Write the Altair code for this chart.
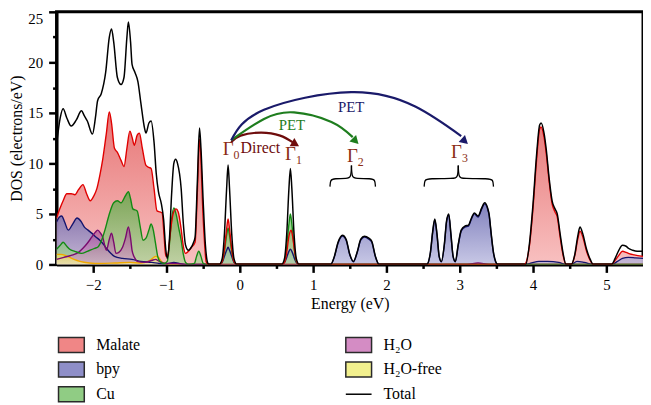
import altair as alt
import pandas as pd

FONT = "Liberation Serif"

# ---------------- axes ----------------
X_DOMAIN = [-2.5, 5.5]
Y_DOMAIN = [0, 25]
X_MAJOR = [-2, -1, 0, 1, 2, 3, 4, 5]
X_MINOR = [-1.5, -0.5, 0.5, 1.5, 2.5, 3.5, 4.5]
Y_MAJOR = [0, 5, 10, 15, 20, 25]
Y_MINOR = [2.5, 7.5, 12.5, 17.5, 22.5]

# ---------------- DOS curves ----------------
TOTAL_E = [-2.50, -2.45, -2.41, -2.36, -2.30, -2.23, -2.16, -2.12, -2.08, -2.01,
           -1.97, -1.94, -1.89, -1.83, -1.78, -1.75, -1.72, -1.67, -1.62, -1.58,
           -1.54, -1.52, -1.49, -1.47, -1.43, -1.39, -1.35, -1.30, -1.28, -1.24,
           -1.21, -1.17, -1.14, -1.11, -1.07, -1.04, -1.01, -0.99, -0.96, -0.93,
           -0.90, -0.876, -0.85, -0.80, -0.77, -0.74, -0.70, -0.67, -0.63, -0.61,
           -0.58, -0.55, -0.53, -0.50, -0.47, -0.44, -0.42,
           -0.28, -0.24, -0.21, -0.18, -0.16, -0.14, -0.11, -0.08, -0.04,
           0.57, 0.61, 0.64, 0.67, 0.69, 0.71, 0.74, 0.77, 0.81,
           1.24, 1.29, 1.34, 1.40, 1.45, 1.50, 1.55, 1.60, 1.65, 1.70, 1.76, 1.80, 1.85, 1.90,
           2.55, 2.60, 2.63, 2.66, 2.69, 2.72, 2.75, 2.79, 2.82, 2.85, 2.88, 2.91, 2.94, 2.98,
           3.02, 3.07, 3.12, 3.16, 3.20, 3.25, 3.30, 3.34, 3.38, 3.40, 3.43, 3.46, 3.49, 3.52,
           3.90, 3.95, 4.00, 4.05, 4.09, 4.11, 4.15, 4.18, 4.22, 4.26, 4.30, 4.33, 4.37, 4.41, 4.45,
           4.52, 4.57, 4.61, 4.64, 4.68, 4.73, 4.78, 4.82,
           5.07, 5.12, 5.17, 5.22, 5.27, 5.30, 5.36, 5.42, 5.50]
TOTAL_DOS = [11.8, 14.5, 15.4, 14.5, 13.7, 14.3, 15.2, 14.7, 14.2, 12.9,
             14.5, 16.2, 16.9, 19.0, 22.5, 23.3, 22.0, 18.5, 17.8, 18.5,
             22.5, 24.0, 22.0, 19.8, 19.0, 18.1, 16.0, 13.5, 13.0, 14.0,
             14.2, 12.1, 9.0, 7.2, 6.0, 4.5, 1.5, 0.6, 2.5, 7.0,
             10.0, 10.4, 10.0, 7.5, 4.0, 1.9, 1.4, 1.6, 2.2, 2.7,
             8.0, 13.5, 11.5, 6.3, 2.0, 0.2, 0.0,
             0.0, 0.6, 3.0, 7.5, 9.85, 7.5, 3.0, 0.6, 0.0,
             0.0, 0.6, 3.0, 7.5, 9.5, 7.5, 3.0, 0.6, 0.0,
             0.0, 0.8, 2.2, 2.9, 2.5, 1.0, 0.3, 1.2, 2.5, 2.8, 2.6, 2.3, 0.8, 0.0,
             0.0, 1.2, 3.2, 4.5, 3.0, 0.8, 0.3, 2.0, 4.3, 5.0, 3.0, 0.8, 0.3, 2.0,
             3.4, 3.8, 3.9, 4.6, 5.1, 4.8, 5.6, 6.1, 5.6, 5.0, 3.0, 1.2, 0.3, 0.0,
             0.0, 2.0, 6.0, 11.0, 13.8, 14.0, 13.0, 11.4, 8.5, 6.3, 5.5, 5.0, 3.0, 1.1, 0.0,
             0.0, 1.0, 2.8, 3.7, 3.0, 1.5, 0.5, 0.0,
             0.0, 0.6, 1.4, 1.9, 1.8, 1.6, 1.4, 1.3, 1.3]

MALATE_E = [-2.50, -2.45, -2.41, -2.36, -2.30, -2.25, -2.20, -2.14, -2.09, -2.04,
            -1.99, -1.95, -1.91, -1.87, -1.82, -1.78, -1.75, -1.71, -1.67, -1.62,
            -1.58, -1.54, -1.50, -1.47, -1.44, -1.40, -1.37, -1.33, -1.28, -1.24,
            -1.21, -1.17, -1.13, -1.09, -1.06, -1.03, -1.01, -0.98, -0.95, -0.91,
            -0.87, -0.84, -0.80, -0.77, -0.74, -0.70, -0.66, -0.61, -0.58, -0.55,
            -0.53, -0.51, -0.48, -0.46, -0.43,
            -0.28, -0.24, -0.21, -0.18, -0.16, -0.14, -0.11, -0.08, -0.04,
            0.57, 0.61, 0.64, 0.67, 0.70, 0.72, 0.75, 0.78, 0.81,
            3.88, 3.95, 4.00, 4.05, 4.09, 4.11, 4.15, 4.18, 4.22, 4.26, 4.30, 4.33, 4.37, 4.41, 4.45,
            4.52, 4.57, 4.61, 4.64, 4.68, 4.73, 4.78, 4.82,
            5.07, 5.12, 5.17, 5.22, 5.27, 5.32, 5.38, 5.50]
MALATE_DOS = [4.6, 5.6, 6.3, 7.0, 7.0, 6.9, 7.4, 7.9, 7.0, 6.3,
              6.8, 7.5, 8.8, 10.4, 13.0, 15.1, 14.0, 11.5, 11.1, 10.3,
              9.7, 11.5, 13.2, 12.6, 11.8, 12.8, 13.0, 11.5, 9.8, 9.6,
              9.5, 7.5, 5.3, 5.2, 5.1, 2.5, 0.8, 1.0, 3.0, 5.0,
              5.5, 5.2, 3.5, 1.8, 1.1, 1.3, 1.7, 2.2, 7.0, 12.4,
              10.5, 6.3, 2.0, 0.3, 0.0,
              0.0, 0.3, 1.5, 3.5, 4.5, 3.5, 1.5, 0.3, 0.0,
              0.0, 0.2, 1.2, 2.8, 3.4, 2.8, 1.2, 0.2, 0.0,
              0.0, 1.8, 5.6, 10.5, 13.4, 13.6, 12.6, 11.0, 8.2, 6.0, 5.2, 4.7, 2.7, 0.9, 0.0,
              0.0, 0.9, 2.5, 3.3, 2.7, 1.3, 0.4, 0.0,
              0.0, 0.4, 0.9, 1.3, 1.2, 1.05, 0.95, 0.8]

BPY_E = [-2.50, -2.46, -2.43, -2.39, -2.34, -2.28, -2.22, -2.17, -2.12, -2.07,
         -2.02, -1.96, -1.91, -1.86, -1.82, -1.76, -1.71, -1.60, -1.47, -1.35,
         -1.20, -1.10, -1.00, -0.90, -0.80, -0.70,
         -0.28, -0.24, -0.21, -0.18, -0.16, -0.14, -0.11, -0.08, -0.04,
         0.57, 0.61, 0.64, 0.67, 0.69, 0.71, 0.74, 0.77, 0.81,
         1.24, 1.29, 1.34, 1.40, 1.45, 1.50, 1.55, 1.60, 1.65, 1.70, 1.76, 1.80, 1.85, 1.90,
         2.55, 2.60, 2.63, 2.66, 2.69, 2.72, 2.75, 2.79, 2.82, 2.85, 2.88, 2.91, 2.94, 2.98,
         3.02, 3.07, 3.12, 3.16, 3.20, 3.25, 3.30, 3.34, 3.38, 3.40, 3.43, 3.46, 3.49, 3.52,
         3.90, 3.98, 4.08, 4.20, 4.35, 4.45, 4.52, 4.60, 4.70, 4.82,
         5.07, 5.15, 5.22, 5.30, 5.40, 5.50]
BPY_DOS = [4.2, 4.7, 4.8, 4.2, 3.4, 4.0, 4.6, 4.3, 3.7, 3.4,
           3.1, 2.7, 2.4, 2.0, 1.6, 1.1, 0.8, 0.6, 0.5, 0.3,
           0.2, 0.1, 0.05, 0.2, 0.05, 0.0,
           0.0, 0.2, 0.8, 1.4, 1.7, 1.4, 0.8, 0.2, 0.0,
           0.0, 0.2, 0.7, 1.3, 1.5, 1.3, 0.7, 0.2, 0.0,
           0.0, 0.75, 2.1, 2.8, 2.4, 0.95, 0.25, 1.15, 2.4, 2.7, 2.5, 2.2, 0.75, 0.0,
           0.0, 1.15, 3.1, 4.4, 2.9, 0.75, 0.25, 1.9, 4.2, 4.9, 2.9, 0.75, 0.25, 1.9,
           3.3, 3.7, 3.8, 4.5, 5.0, 4.7, 5.5, 6.0, 5.5, 4.9, 2.9, 1.15, 0.25, 0.0,
           0.0, 0.15, 0.3, 0.3, 0.2, 0.0, 0.0, 0.3, 0.2, 0.0,
           0.0, 0.3, 0.6, 0.7, 0.65, 0.6]

CU_E = [-2.50, -2.45, -2.41, -2.36, -2.32, -2.25, -2.16, -2.08, -1.98, -1.94,
        -1.88, -1.84, -1.78, -1.72, -1.67, -1.62, -1.56, -1.52, -1.49, -1.46,
        -1.40, -1.36, -1.32, -1.28, -1.24, -1.21, -1.18, -1.15, -1.12, -1.09,
        -1.03, -0.99, -0.96, -0.93, -0.90, -0.87, -0.83, -0.80, -0.77, -0.74,
        -0.70, -0.62, -0.59, -0.56, -0.53, -0.50, -0.46,
        -0.28, -0.24, -0.21, -0.18, -0.16, -0.14, -0.11, -0.08, -0.04,
        0.57, 0.61, 0.64, 0.67, 0.69, 0.71, 0.74, 0.77, 0.81, 5.50]
CU_DOS = [1.5, 1.9, 2.2, 1.8, 1.5, 1.3, 1.1, 1.3, 1.6, 1.7,
          2.5, 3.4, 5.0, 6.1, 6.3, 6.1, 6.8, 7.2, 6.5, 5.5,
          5.3, 3.8, 2.4, 2.6, 3.4, 4.0, 3.4, 2.1, 0.8, 0.3,
          0.1, 0.3, 2.0, 4.5, 5.6, 5.0, 3.5, 2.4, 1.0, 0.2,
          0.0, 0.1, 0.8, 1.3, 0.8, 0.1, 0.0,
          0.0, 0.3, 1.3, 2.9, 3.6, 2.9, 1.3, 0.3, 0.0,
          0.0, 0.3, 1.8, 4.0, 5.0, 4.0, 1.8, 0.3, 0.0, 0.0]

H2O_E = [-2.50, -2.40, -2.30, -2.20, -2.14, -2.08, -2.02, -1.97, -1.94, -1.90,
         -1.87, -1.84, -1.82, -1.78, -1.75, -1.72, -1.69, -1.65, -1.60, -1.56,
         -1.52, -1.49, -1.47, -1.43, -1.40, -1.30, -1.20, -1.15, -1.10, -1.00,
         -0.90, -0.70, 3.10, 3.25, 3.40, 5.50]
H2O_DOS = [0.5, 0.7, 0.9, 1.2, 1.6, 2.1, 2.7, 3.2, 3.4, 3.1,
           2.7, 1.8, 1.4, 2.5, 3.1, 2.2, 1.1, 1.2, 1.7, 2.6,
           3.7, 2.6, 1.4, 0.6, 0.3, 0.2, 0.4, 0.5, 0.3, 0.1,
           0.1, 0.0, 0.0, 0.15, 0.0, 0.0]

FREE_E = [-2.50, -2.44, -2.38, -2.32, -2.26, -2.18, -2.05, -1.90, -1.70, -1.50,
          -1.35, -1.25, -1.19, -1.15, -1.11, -1.07, -1.02, -0.95, 5.50]
FREE_DOS = [1.0, 1.0, 0.9, 0.7, 0.5, 0.3, 0.15, 0.1, 0.15, 0.2,
            0.15, 0.3, 0.6, 0.8, 0.7, 0.3, 0.05, 0.0, 0.0]

# ---------------- annotations ----------------
DIRECT_E = [-0.117, 0.01, 0.29, 0.55, 0.72]
DIRECT_DOS = [12.13, 12.75, 13.05, 12.75, 12.1]
PET2_E = [-0.117, 0.33, 0.74, 1.25, 1.54]
PET2_DOS = [12.3, 14.4, 15.05, 14.1, 12.6]
PET3_E = [-0.117, 0.33, 1.52, 2.40, 3.02]
PET3_DOS = [12.3, 15.3, 17.05, 15.6, 12.7]
HEAD_E = [0.76, 1.58, 3.07]
HEAD_DOS = [11.9, 12.2, 12.2]
HEAD_ANGLE = [30, 45, 42]
HEAD_COLOR = ["#6e0c0c", "#1e7d1e", "#1a1a6a"]

GAMMA_E = [-0.085, 0.766, 1.61, 3.03]
GAMMA_DOS = [11.4, 10.9, 10.75, 11.1]
GAMMA_SUB = ["0", "1", "2", "3"]

ARROW_TEXT = ["Direct", "PET", "PET"]
ARROW_TEXT_E = [0.28, 0.71, 1.52]
ARROW_TEXT_DOS = [11.5, 13.8, 15.6]
ARROW_TEXT_COLOR = ["#6e0c0c", "#1e7d1e", "#1a1a6a"]

BRACE_PART = ["g2L"] * 6 + ["g2R"] * 6 + ["g3L"] * 6 + ["g3R"] * 6
BRACE_E = [1.23, 1.235, 1.29, 1.463, 1.518, 1.523,
           1.85, 1.845, 1.79, 1.583, 1.528, 1.523,
           2.515, 2.52, 2.575, 2.92, 2.975, 2.98,
           3.46, 3.455, 3.40, 3.04, 2.985, 2.98]
BRACE_DOS = [7.7, 8.4, 8.5, 8.5, 8.6, 9.8] * 4

# ---------------- legend ----------------
LEGEND_ORDER = ["Malate", "bpy", "Cu", "H₂O", "H₂O-free", "Total"]
LEGEND_FILL = ["#f08686", "#8e8ec8", "#90cc84", "#d48cc4", "#f2f08e", "#000000"]
LEGEND_STROKE = ["#2a2a2a", "#2a2a2a", "#2a2a2a", "#2a2a2a", "#2a2a2a", "#000000"]
SWATCH = "M-1,-0.58H1V0.58H-1Z"
LEGEND_SHAPE = [SWATCH, SWATCH, SWATCH, SWATCH, SWATCH, "stroke"]


def frame(e, d, name):
    assert len(e) == len(d), name
    return pd.DataFrame({"E": e, "DOS": d, "series": name, "ord": list(range(len(e)))})


def grad(top, bottom):
    return alt.LinearGradient(
        gradient="linear",
        stops=[alt.GradientStop(color=top, offset=0), alt.GradientStop(color=bottom, offset=1)],
        x1=0, x2=0, y1=0, y2=1,
    )


xs = alt.Scale(domain=X_DOMAIN, nice=False, zero=False)
ys = alt.Scale(domain=Y_DOMAIN, nice=False)

axis_style = dict(domainColor="black", domainWidth=3, tickColor="black", tickWidth=2.5,
                  labelFont=FONT, labelFontSize=15, labelColor="black", titleFont=FONT,
                  titleFontSize=16, titleFontWeight="normal", titleColor="black", grid=False)
x_axis = alt.Axis(values=X_MAJOR, format="d", title="Energy (eV)", orient="bottom",
                  tickSize=8, labelPadding=5, titlePadding=3, **axis_style)
y_axis = alt.Axis(values=Y_MAJOR, format="d", title="DOS (electrons/eV)", orient="left",
                  tickSize=8, labelPadding=6, titlePadding=3,
                  labelBaseline={"condition": {"test": "datum.value == 25", "value": "top"},
                                 "value": "middle"},
                  **axis_style)
x_minor = alt.Axis(values=X_MINOR, labels=False, domain=False, title=None, orient="bottom",
                   tickSize=4, tickWidth=2.5, tickColor="black", grid=False)
y_minor = alt.Axis(values=Y_MINOR, labels=False, domain=False, title=None, orient="left",
                   tickSize=4, tickWidth=2.5, tickColor="black", grid=False)

X = alt.X("E:Q", scale=xs, axis=x_axis)
Y = alt.Y("DOS:Q", scale=ys, axis=y_axis)

series = [
    ("Malate", MALATE_E, MALATE_DOS, "#e25d5d", "#f7b5b5", 0.85, "#e00000"),
    ("bpy", BPY_E, BPY_DOS, "#5858a8", "#b5b5dd", 0.75, "#14146e"),
    ("Cu", CU_E, CU_DOS, "#4aa83a", "#a8d898", 0.7, "#138a13"),
    ("H₂O", H2O_E, H2O_DOS, "#a0408f", "#d8a0cc", 0.65, "#7a0a6e"),
    ("H₂O-free", FREE_E, FREE_DOS, "#e8e050", "#f5f2a8", 0.7, "#f0a800"),
]

areas = []
lines = []
for name, e, d, top, bot, op, lc in series:
    df = frame(e, d, name)
    areas.append(alt.Chart(df).mark_area(color=grad(top, bot), opacity=op,
                                         interpolate="monotone", clip=True).encode(x=X, y=Y))
    lines.append(alt.Chart(df).mark_line(color=lc, strokeWidth=1.4,
                                         interpolate="monotone", clip=True).encode(x=X, y=Y))

line_order = [4, 1, 3, 2, 0]
lines = [lines[i] for i in line_order]

arcs = []
for e, d, c in [(DIRECT_E, DIRECT_DOS, HEAD_COLOR[0]), (PET2_E, PET2_DOS, HEAD_COLOR[1]),
                (PET3_E, PET3_DOS, HEAD_COLOR[2])]:
    arcs.append(alt.Chart(frame(e, d, "arc")).mark_line(color=c, strokeWidth=2.2,
                                                         interpolate="natural").encode(
        x=X, y=Y, order="ord:Q"))

heads = []
for i in range(3):
    hdf = pd.DataFrame({"E": [HEAD_E[i]], "DOS": [HEAD_DOS[i]]})
    heads.append(alt.Chart(hdf).mark_point(shape="triangle-right", filled=True, size=90,
                                           opacity=1, color=HEAD_COLOR[i],
                                           angle=HEAD_ANGLE[i]).encode(x=X, y=Y))

brace_df = pd.DataFrame({"E": BRACE_E, "DOS": BRACE_DOS, "part": BRACE_PART,
                         "ord": list(range(len(BRACE_E)))})
braces = alt.Chart(brace_df).mark_line(color="black", strokeWidth=1.3,
                                       interpolate="basis").encode(
    x=X, y=Y, detail="part:N", order="ord:Q")

gdf = pd.DataFrame({"E": GAMMA_E, "DOS": GAMMA_DOS, "sub": GAMMA_SUB, "G": ["Γ"] * 4})
gamma = alt.Chart(gdf).mark_text(font=FONT, fontSize=19, color="#8b2c14", align="right",
                                 baseline="middle").encode(x=X, y=Y, text="G:N")
gamma_sub = alt.Chart(gdf).mark_text(font=FONT, fontSize=12, color="#8b2c14", align="left",
                                     baseline="middle", dy=6).encode(x=X, y=Y, text="sub:N")

text_layers = []
for i in range(3):
    tdf = pd.DataFrame({"E": [ARROW_TEXT_E[i]], "DOS": [ARROW_TEXT_DOS[i]],
                        "t": [ARROW_TEXT[i]]})
    text_layers.append(alt.Chart(tdf).mark_text(font=FONT, fontSize=16 if i == 0 else 15,
                                                color=ARROW_TEXT_COLOR[i], align="center",
                                                baseline="middle").encode(x=X, y=Y, text="t:N"))

legend_df = pd.DataFrame({"series": LEGEND_ORDER})
leg = alt.Legend(title=None, orient="none", legendX=1, legendY=322, columns=2,
                 columnPadding=204, rowPadding=0, symbolSize=676, symbolStrokeWidth=1.5,
                 labelFont=FONT, labelFontSize=16, labelOffset=11, labelColor="black",
                 symbolOpacity=1, gridAlign="each")
legend_layer = alt.Chart(legend_df).mark_point(filled=True, opacity=0).encode(
    fill=alt.Fill("series:N", scale=alt.Scale(domain=LEGEND_ORDER, range=LEGEND_FILL), legend=leg),
    stroke=alt.Stroke("series:N", scale=alt.Scale(domain=LEGEND_ORDER, range=LEGEND_STROKE), legend=leg),
    shape=alt.Shape("series:N", scale=alt.Scale(domain=LEGEND_ORDER, range=LEGEND_SHAPE), legend=leg),
)

main = alt.layer(*areas, *lines, *arcs, *heads, braces, gamma, gamma_sub, *text_layers,
                 legend_layer)

total_df = frame(TOTAL_E, TOTAL_DOS, "Total")
total = alt.Chart(total_df).mark_line(color="black", strokeWidth=1.5, interpolate="monotone",
                                      clip=True).encode(
    x=alt.X("E:Q", scale=xs, axis=x_minor), y=alt.Y("DOS:Q", scale=ys, axis=y_minor))

chart = alt.layer(main, total).resolve_axis(x="independent", y="independent").properties(
    width=592, height=255,
    autosize=alt.AutoSizeParams(type="none"),
    padding={"left": 49, "top": 2, "right": 0, "bottom": 140},
    background="white",
).configure_view(stroke="black", strokeWidth=3)

chart.save("out.html", embed_options={"renderer": "svg", "actions": False})
